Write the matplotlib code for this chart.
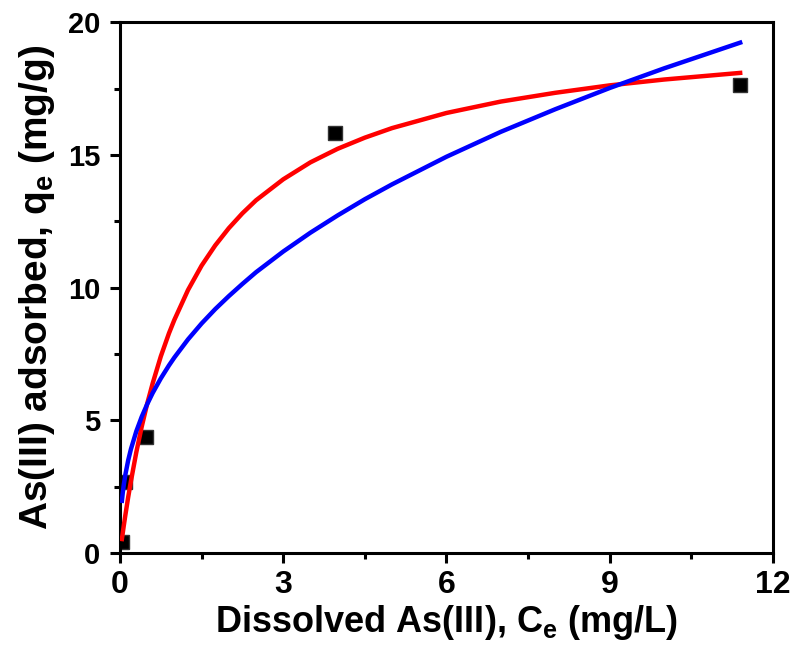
import numpy as np
import matplotlib
matplotlib.use("Agg")
import matplotlib.pyplot as plt
from matplotlib.ticker import MultipleLocator

plt.rcParams['font.family'] = ['Liberation Sans', 'DejaVu Sans']
plt.rcParams['font.weight'] = 'bold'
plt.rcParams['mathtext.fontset'] = 'custom'
plt.rcParams['mathtext.rm'] = 'Liberation Sans:bold'
plt.rcParams['mathtext.bf'] = 'Liberation Sans:bold'

# measured points
ce_data = [0.03, 0.09, 0.48, 3.95, 11.40]
qe_data = [0.43, 2.67, 4.37, 15.84, 17.65]

# fitted curves
ce_red = [0.035, 0.07, 0.1, 0.15, 0.2, 0.3, 0.4, 0.5, 0.6, 0.75, 0.9, 1.0, 1.25, 1.5, 1.75,
          2.0, 2.25, 2.5, 3.0, 3.5, 4.0, 4.5, 5.0, 6.0, 7.0, 8.0, 9.0, 10.0, 11.4]
qe_red = [0.53, 1.04, 1.45, 2.10, 2.70, 3.80, 4.77, 5.63, 6.39, 7.41, 8.28, 8.79, 9.91, 10.83, 11.59,
          12.24, 12.80, 13.29, 14.08, 14.72, 15.23, 15.65, 16.01, 16.58, 17.01, 17.34, 17.62, 17.84, 18.09]

ce_blue = [0.035, 0.05, 0.07, 0.1, 0.15, 0.2, 0.3, 0.4, 0.5, 0.6, 0.75, 0.9, 1.0, 1.25, 1.5, 1.75,
           2.0, 2.25, 2.5, 3.0, 3.5, 4.0, 4.5, 5.0, 6.0, 7.0, 8.0, 9.0, 10.0, 11.4]
qe_blue = [1.97, 2.26, 2.58, 2.97, 3.49, 3.91, 4.59, 5.14, 5.61, 6.03, 6.58, 7.07, 7.37, 8.05, 8.65, 9.19,
           9.68, 10.14, 10.58, 11.36, 12.07, 12.72, 13.33, 13.89, 14.93, 15.87, 16.72, 17.52, 18.26, 19.23]

fig = plt.figure(figsize=(8, 6.53), dpi=100)
ax = fig.add_axes([0.15, 0.153, 0.816, 0.813])

ax.plot(ce_data, qe_data, 's', color='black', markersize=10, markeredgecolor='#333333', zorder=2)
ax.plot(ce_red, qe_red, color='#ff0000', linewidth=3.2, zorder=3)
ax.plot(ce_blue, qe_blue, color='#0000ff', linewidth=3.2, zorder=3)

ax.set_xlim(0, 12)
ax.set_ylim(0, 20)
ax.xaxis.set_major_locator(MultipleLocator(3))
ax.xaxis.set_minor_locator(MultipleLocator(1.5))
ax.yaxis.set_major_locator(MultipleLocator(5))
ax.yaxis.set_minor_locator(MultipleLocator(2.5))
ax.tick_params(which='major', direction='out', length=7, width=2.2, pad=5)
ax.tick_params(which='minor', direction='out', length=4, width=2.2)
ax.tick_params(axis='x', labelsize=23)
ax.tick_params(axis='y', labelsize=21, pad=7)
for lab in ax.get_xticklabels() + ax.get_yticklabels():
    lab.set_fontweight('bold')
for sp in ax.spines.values():
    sp.set_linewidth(2.2)

ax.set_xlabel(r'Dissolved As(III), C$_\mathregular{e}$ (mg/L)', fontsize=26, fontweight='bold', labelpad=2)
ax.set_ylabel(r'As(III) adsorbed, q$_\mathregular{e}$ (mg/g)', fontsize=28, fontweight='bold', labelpad=8)

fig.savefig('out.png', dpi=100)
